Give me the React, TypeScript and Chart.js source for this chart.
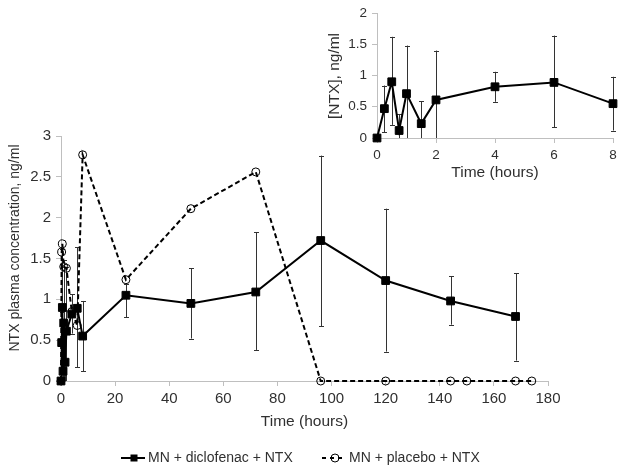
import React, { useEffect, useRef } from "react";
import { Chart, registerables } from "chart.js";

Chart.register(...registerables);

const FONT = "'Liberation Sans', Arial, Helvetica, sans-serif";

// ---- Data ----
const diclofenacTimes = [0, 0.25, 0.5, 0.75, 1, 1.5, 2, 4, 6, 8, 24, 48, 72, 96, 120, 144, 168];
const diclofenacMean = [0, 0.47, 0.9, 0.12, 0.71, 0.23, 0.61, 0.82, 0.89, 0.55, 1.05, 0.95, 1.09, 1.72, 1.23, 0.98, 0.79];
const diclofenacLow = [0, 0.09, 0.21, -0.14, -0.06, -0.12, -0.18, 0.58, 0.17, 0.12, 0.78, 0.52, 0.38, 0.67, 0.36, 0.69, 0.25];
const diclofenacHigh = [0, 0.84, 1.62, 0.38, 1.48, 0.59, 1.4, 1.06, 1.64, 0.98, 1.19, 1.38, 1.82, 2.76, 2.11, 1.28, 1.32];

const placeboTimes = [0, 0.25, 0.5, 1, 2, 4, 6, 8, 24, 48, 72, 96, 120, 144, 150, 168, 174];
const placeboMean = [0, 1.58, 1.68, 1.4, 1.38, 0.85, 0.68, 2.77, 1.24, 2.11, 2.56, 0, 0, 0, 0, 0, 0];

const insetMaxHour = 8;

const seriesLabels = ["MN + diclofenac + NTX", "MN + placebo + NTX"];
const mainYTitle = "NTX plasma concentration, ng/ml";
const xTitle = "Time (hours)";
const insetYTitle = "[NTX], ng/ml";

const AXIS_COLOR = "#bfbfbf";
const TEXT_COLOR = "#303030";

const errorBarPlugin = {
  id: "errorBars",
  beforeDatasetsDraw(chart: any, _args: any, opts: any) {
    const { ctx, scales } = chart;
    const xs = scales.x;
    const ys = scales.y;
    ctx.save();
    ctx.strokeStyle = "#333";
    ctx.lineWidth = 1;
    const cap = 2.5;
    (opts.bars || []).forEach((b: any) => {
      b.times.forEach((t: number, i: number) => {
        if (t < xs.min || t > xs.max) return;
        const lo = b.lows[i];
        const hi = b.highs[i];
        if (lo === hi) return;
        const x = Math.round(xs.getPixelForValue(t)) + 0.5;
        const yl = ys.getPixelForValue(Math.max(lo, ys.min));
        const yh = ys.getPixelForValue(Math.min(hi, ys.max));
        ctx.beginPath();
        ctx.moveTo(x, yl);
        ctx.lineTo(x, yh);
        if (hi <= ys.max) {
          ctx.moveTo(x - cap, Math.round(yh) + 0.5);
          ctx.lineTo(x + cap, Math.round(yh) + 0.5);
        }
        if (lo >= ys.min) {
          ctx.moveTo(x - cap, Math.round(yl) + 0.5);
          ctx.lineTo(x + cap, Math.round(yl) + 0.5);
        }
        ctx.stroke();
      });
    });
    ctx.restore();
  },
};

const textPlugin = {
  id: "texts",
  afterDraw(chart: any, _args: any, opts: any) {
    const { ctx, chartArea } = chart;
    ctx.save();
    ctx.fillStyle = TEXT_COLOR;
    ctx.textBaseline = "middle";
    const cx = (chartArea.left + chartArea.right) / 2;
    if (opts.xTitle) {
      ctx.font = `${opts.xTitle.size}px ${FONT}`;
      ctx.textAlign = "center";
      ctx.fillText(opts.xTitle.text, cx, opts.xTitle.y);
    }
    if (opts.yTitle) {
      ctx.save();
      ctx.translate(opts.yTitle.x, opts.yTitle.y);
      ctx.rotate(-Math.PI / 2);
      ctx.font = `${opts.yTitle.size}px ${FONT}`;
      ctx.textAlign = "center";
      ctx.fillText(opts.yTitle.text, 0, 0);
      ctx.restore();
    }
    if (opts.legend) {
      const lg = opts.legend;
      ctx.font = `${lg.size}px ${FONT}`;
      ctx.textAlign = "left";
      lg.items.forEach((it: any) => {
        const y = lg.y;
        ctx.strokeStyle = "#000";
        ctx.lineWidth = 2;
        ctx.setLineDash(it.dash || []);
        ctx.beginPath();
        ctx.moveTo(it.x, y);
        ctx.lineTo(it.x + 24, y);
        ctx.stroke();
        ctx.setLineDash([]);
        const mx = it.x + 13;
        if (it.marker === "rect") {
          ctx.fillStyle = "#000";
          ctx.fillRect(mx - 3.5, y - 3.5, 7, 7);
        } else {
          ctx.lineWidth = 1;
          ctx.beginPath();
          ctx.arc(mx, y, 4, 0, Math.PI * 2);
          ctx.stroke();
        }
        ctx.fillStyle = TEXT_COLOR;
        ctx.fillText(it.text, it.x + 27, y);
      });
    }
    ctx.restore();
  },
};

function tickLabel(v: any) {
  return `${Number(v)}`;
}

function makeScales(xMax: number, xStep: number, yMax: number, yWidth: number, xHeight: number, fontSize: number) {
  return {
    x: {
      type: "linear",
      min: 0,
      max: xMax,
      ticks: { stepSize: xStep, callback: tickLabel, color: TEXT_COLOR, font: { family: FONT, size: fontSize }, padding: 4, maxRotation: 0 },
      grid: { drawOnChartArea: false, color: AXIS_COLOR, tickLength: 5 },
      border: { color: AXIS_COLOR },
      afterFit(s: any) {
        s.height = xHeight;
      },
    },
    y: {
      type: "linear",
      min: 0,
      max: yMax,
      ticks: { stepSize: 0.5, callback: tickLabel, color: TEXT_COLOR, font: { family: FONT, size: fontSize }, padding: 5 },
      grid: { drawOnChartArea: false, color: AXIS_COLOR, tickLength: 5 },
      border: { color: AXIS_COLOR },
      afterFit(s: any) {
        s.width = yWidth;
      },
    },
  };
}

function diclofenacDataset(maxT: number) {
  const pts = diclofenacTimes
    .map((t, i) => ({ x: t, y: diclofenacMean[i] }))
    .filter((p) => p.x <= maxT);
  return {
    label: seriesLabels[0],
    data: pts,
    borderColor: "#000",
    backgroundColor: "#000",
    borderWidth: 2,
    pointStyle: "rect",
    pointRadius: 5.5,
    pointBorderWidth: 1,
    pointBackgroundColor: "#000",
    pointBorderColor: "#000",
    clip: false,
  };
}

export default function App() {
  const mainRef = useRef<HTMLCanvasElement | null>(null);
  const insetRef = useRef<HTMLCanvasElement | null>(null);

  useEffect(() => {
    const main = new Chart(mainRef.current as HTMLCanvasElement, {
      type: "line",
      data: {
        datasets: [
          diclofenacDataset(1000),
          {
            label: seriesLabels[1],
            data: placeboTimes.map((t, i) => ({ x: t, y: placeboMean[i] })),
            borderColor: "#000",
            borderWidth: 2,
            borderDash: [5, 3],
            pointStyle: "circle",
            pointRadius: 4,
            pointBorderWidth: 1,
            pointBackgroundColor: "rgba(0,0,0,0)",
            pointBorderColor: "#000",
            clip: false,
          },
        ],
      } as any,
      options: {
        animation: false,
        responsive: false,
        layout: { padding: { top: 136, right: 76, bottom: 58, left: 0 } },
        plugins: {
          legend: { display: false },
          tooltip: { enabled: false },
          errorBars: { bars: [{ times: diclofenacTimes, lows: diclofenacLow, highs: diclofenacHigh }] },
          texts: {
            xTitle: { text: xTitle, size: 15.5, y: 422 },
            yTitle: { text: mainYTitle, size: 14, x: 15, y: 248 },
            legend: {
              y: 458,
              size: 14,
              items: [
                { x: 121, text: seriesLabels[0], marker: "rect" },
                { x: 322, text: seriesLabels[1], marker: "circle", dash: [4, 4] },
              ],
            },
          },
        } as any,
        scales: makeScales(180, 20, 3, 61, 30, 15) as any,
      },
      plugins: [errorBarPlugin, textPlugin],
    });

    const inset = new Chart(insetRef.current as HTMLCanvasElement, {
      type: "line",
      data: { datasets: [diclofenacDataset(insetMaxHour)] } as any,
      options: {
        animation: false,
        responsive: false,
        layout: { padding: { top: 10, right: 11, bottom: 22, left: 0 } },
        plugins: {
          legend: { display: false },
          tooltip: { enabled: false },
          errorBars: { bars: [{ times: diclofenacTimes, lows: diclofenacLow, highs: diclofenacHigh }] },
          texts: {
            xTitle: { text: xTitle, size: 15.5, y: 173 },
            yTitle: { text: insetYTitle, size: 15.5, x: 35, y: 76 },
          },
        } as any,
        scales: makeScales(insetMaxHour, 2, 2, 77, 30, 13.5) as any,
      },
      plugins: [errorBarPlugin, textPlugin],
    });

    return () => {
      main.destroy();
      inset.destroy();
    };
  }, []);

  return (
    <div style={{ position: "absolute", left: 0, top: 0, width: 624, height: 469, background: "#fff" }}>
      <canvas ref={mainRef} width={624} height={469} style={{ position: "absolute", left: 0, top: 0, display: "block" }} />
      <canvas ref={insetRef} width={324} height={190} style={{ position: "absolute", left: 300, top: 0, display: "block" }} />
    </div>
  );
}
